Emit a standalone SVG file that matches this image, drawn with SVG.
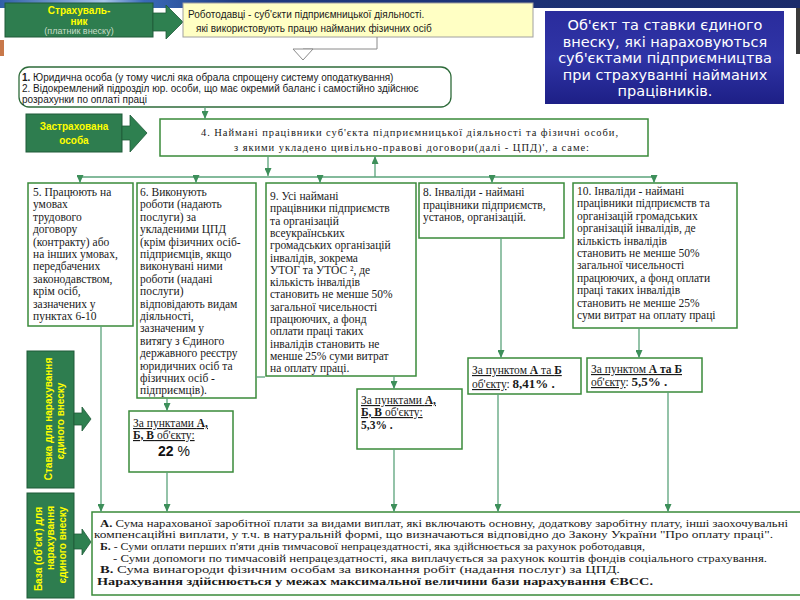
<svg xmlns="http://www.w3.org/2000/svg" width="800" height="600" viewBox="0 0 800 600">
<defs>
<linearGradient id="topg" x1="0" y1="0" x2="1" y2="0">
<stop offset="0" stop-color="#2f5fa8"/><stop offset="0.13" stop-color="#a8c6ea"/><stop offset="0.18" stop-color="#3a6ab8"/><stop offset="0.3" stop-color="#1e3a80"/><stop offset="1" stop-color="#1a2b6a"/>
</linearGradient>
<linearGradient id="blueg" x1="0" y1="0" x2="0" y2="1">
<stop offset="0" stop-color="#2a2c9c"/><stop offset="0.5" stop-color="#2f34a6"/><stop offset="1" stop-color="#1d1f86"/>
</linearGradient>
<marker id="ar" markerUnits="userSpaceOnUse" markerWidth="8" markerHeight="7" refX="8" refY="3.5" orient="auto">
<path d="M0,0 L8,3.5 L0,7 z" fill="#3d8f5a"/>
</marker>
<style>
.gb{fill:#2e7d4f;stroke:#1f5a38;stroke-width:1}
.ga{fill:#2e8050;stroke:#1f5a38;stroke-width:0.8}
.yl{fill:#ffff00;font-family:"Liberation Sans",Arial,sans-serif;font-weight:bold;font-size:10px}
.bx{fill:#ffffff;stroke:#3a8a3a;stroke-width:1.5}
.t{font-family:"Liberation Serif","Times New Roman",serif;font-size:11.5px;fill:#1a1a1a}
.tb{font-family:"Liberation Serif","Times New Roman",serif;font-size:10.5px;fill:#1a1a1a}
.s{font-family:"Liberation Sans",Arial,sans-serif;font-size:10px;fill:#1a1a1a}
.c{stroke:#5aa37a;stroke-width:1.3;fill:none}
.b{font-weight:bold}
.u{text-decoration:underline}
</style>
</defs>
<rect width="800" height="600" fill="#ffffff"/>
<rect x="0" y="0" width="800" height="8" fill="url(#topg)"/>
<rect x="0" y="40" width="4" height="16" fill="#c8784a"/>
<rect x="796" y="8" width="4" height="46" fill="#3a3a3a"/>

<g id="strakhuvalnyk">
<rect class="gb" x="5" y="3" width="148" height="34"/>
<text class="yl" x="79" y="14" text-anchor="middle">Страхуваль-</text>
<text class="yl" x="79" y="25" text-anchor="middle">ник</text>
<text x="79" y="34" text-anchor="middle" font-family="Liberation Sans,Arial,sans-serif" font-size="9" fill="#c8dcc8">(платник внеску)</text>
<polygon class="ga" points="153,13 166,13 166,5 183,22 166,39 166,31 153,31"/>
</g>

<g id="robotodavtsi">
<rect x="183" y="3" width="350" height="34" fill="#ffffc4" stroke="#a0a0a0" stroke-width="1"/>
<text class="s" x="188" y="18" font-size="11">Роботодавці - суб'єкти підприємницької діяльності.</text>
<text class="s" x="196" y="32" font-size="11">які використовують працю найманих фізичних осіб</text>
</g>

<g id="title">
<rect x="545" y="11" width="239" height="93" fill="url(#blueg)"/>
<g font-family="DejaVu Sans,Verdana,sans-serif" font-size="14.5" fill="#ffffff" text-anchor="middle">
<text x="665" y="30">Об'єкт та ставки єдиного</text>
<text x="665" y="47">внеску, які нараховуються</text>
<text x="665" y="63">суб'єктами підприємництва</text>
<text x="665" y="80">при страхуванні найманих</text>
<text x="665" y="96">працівників.</text>
</g>
</g>

<g id="box1">
<rect x="19" y="67" width="432" height="40" rx="10" ry="10" fill="#ffffff" stroke="#2e6b3a" stroke-width="1.3"/>
<text class="s" x="22" y="81"><tspan class="b">1.</tspan> Юридична особа (у тому числі яка обрала спрощену систему оподаткування)</text>
<text class="s" x="22" y="92">2. Відокремлений підрозділ юр. особи, що має окремий баланс і самостійно здійснює</text>
<text class="s" x="22" y="103">розрахунки по оплаті праці</text>
</g>

<g id="zastrakhovana">
<rect class="gb" x="26" y="114" width="96" height="38"/>
<text class="yl" x="74" y="130" text-anchor="middle" font-size="10.5">Застрахована</text>
<text class="yl" x="74" y="144" text-anchor="middle" font-size="10.5">особа</text>
<polygon class="ga" points="122,126 130,126 130,115 147,133 130,152 130,140 122,140"/>
</g>

<g id="box4">
<rect class="bx" x="160" y="119" width="488" height="37"/>
<text class="tb" x="201" y="136" textLength="417" lengthAdjust="spacing">4. Наймані працівники суб'єкта підприємницької діяльності та фізичні особи,</text>
<text class="tb" x="234" y="151" textLength="355" lengthAdjust="spacing">з якими укладено цивільно-правові договори(далі - ЦПД)', а саме:</text>
</g>

<g id="box5">
<rect class="bx" x="28" y="183" width="105" height="143"/>
<g class="t">
<text x="33" y="196">5. Працюють на</text>
<text x="33" y="208.4">умовах</text>
<text x="33" y="220.8">трудового</text>
<text x="33" y="233.2">договору</text>
<text x="33" y="245.6">(контракту) або</text>
<text x="33" y="258">на інших умовах,</text>
<text x="33" y="270.4">передбачених</text>
<text x="33" y="282.8">законодавством,</text>
<text x="33" y="295.2">крім осіб,</text>
<text x="33" y="307.6">зазначених у</text>
<text x="33" y="320">пунктах 6-10</text>
</g>
</g>

<g id="box6">
<rect class="bx" x="137" y="183" width="119" height="215"/>
<g class="t">
<text x="140" y="196">6. Виконують</text>
<text x="140" y="208.4">роботи (надають</text>
<text x="140" y="220.8">послуги)  за</text>
<text x="140" y="233.2">укладеними ЦПД</text>
<text x="140" y="245.6">(крім фізичних осіб-</text>
<text x="140" y="258">підприємців, якщо</text>
<text x="140" y="270.4">виконувані ними</text>
<text x="140" y="282.8">роботи (надані</text>
<text x="140" y="295.2">послуги)</text>
<text x="140" y="307.6">відповідають  видам</text>
<text x="140" y="320">діяльності,</text>
<text x="140" y="332.4">зазначеним  у</text>
<text x="140" y="344.8">витягу  з  Єдиного</text>
<text x="140" y="357.2">державного  реєстру</text>
<text x="140" y="369.6">юридичних осіб та</text>
<text x="140" y="382">фізичних осіб   -</text>
<text x="140" y="394.4">підприємців).</text>
</g>
</g>

<g id="box9">
<rect class="bx" x="266" y="183" width="150" height="193"/>
<g class="t">
<text x="270" y="200">9. Усі наймані</text>
<text x="270" y="212.3">працівники підприємств</text>
<text x="270" y="224.6">та організацій</text>
<text x="270" y="236.9">всеукраїнських</text>
<text x="270" y="249.2">громадських організацій</text>
<text x="270" y="261.5">інвалідів, зокрема</text>
<text x="270" y="273.8">УТОГ та УТОС ², де</text>
<text x="270" y="286.1">кількість інвалідів</text>
<text x="270" y="298.4">становить не менше 50%</text>
<text x="270" y="310.7">загальної чисельності</text>
<text x="270" y="323">працюючих, а фонд</text>
<text x="270" y="335.3">оплати праці таких</text>
<text x="270" y="347.6">інвалідів становить не</text>
<text x="270" y="359.9">менше 25% суми витрат</text>
<text x="270" y="372.2">на оплату праці.</text>
</g>
</g>

<g id="box8">
<rect class="bx" x="419" y="183" width="145" height="55"/>
<g class="t">
<text x="423" y="196">8. Інваліди - наймані</text>
<text x="423" y="208.5">працівники підприємств,</text>
<text x="423" y="221">установ, організацій.</text>
</g>
</g>

<g id="box10">
<rect class="bx" x="573" y="183" width="164" height="145"/>
<g class="t">
<text x="577" y="195">10. Інваліди - наймані</text>
<text x="577" y="207.4">працівники підприємств та</text>
<text x="577" y="219.8">організацій громадських</text>
<text x="577" y="232.2">організацій інвалідів, де</text>
<text x="577" y="244.6">кількість інвалідів</text>
<text x="577" y="257">становить не менше 50%</text>
<text x="577" y="269.4">загальної чисельності</text>
<text x="577" y="281.8">працюючих, а фонд оплати</text>
<text x="577" y="294.2">праці таких інвалідів</text>
<text x="577" y="306.6">становить не менше 25%</text>
<text x="577" y="319">суми витрат на оплату праці</text>
</g>
</g>

<g id="rate22">
<rect class="bx" x="129" y="411" width="104" height="61" stroke-width="1.2"/>
<text class="t" x="133" y="427"><tspan class="u">За пунктами </tspan><tspan class="u b">А,</tspan></text>
<text class="t" x="133" y="439"><tspan class="u b">Б, В</tspan><tspan class="u"> об'єкту:</tspan></text>
<text x="158" y="456" font-family="Liberation Sans,Arial,sans-serif" font-size="14" fill="#111"><tspan font-weight="bold">22</tspan> %</text>
</g>

<g id="rate53">
<rect class="bx" x="357" y="389" width="105" height="60" stroke-width="1.2"/>
<text class="t" x="361" y="404"><tspan class="u">За пунктами </tspan><tspan class="u b">А,</tspan></text>
<text class="t" x="361" y="416"><tspan class="u b">Б, В</tspan><tspan class="u"> об'єкту:</tspan></text>
<text class="t b" x="361" y="429" font-size="12.5">5,3% .</text>
</g>

<g id="rate841">
<rect class="bx" x="468" y="358" width="113" height="36" stroke-width="1.2"/>
<text class="t" x="472" y="374"><tspan class="u">За пунктом </tspan><tspan class="u b">А</tspan><tspan class="u"> та </tspan><tspan class="u b">Б</tspan></text>
<text class="t" x="472" y="388"><tspan class="u">об'єкту</tspan>: <tspan class="b" font-size="13">8,41% .</tspan></text>
</g>

<g id="rate55">
<rect class="bx" x="587" y="358" width="115" height="34" stroke-width="1.2"/>
<text class="t" x="591" y="373"><tspan class="u">За пунктом </tspan><tspan class="u b">А та Б</tspan></text>
<text class="t" x="591" y="386"><tspan class="u">об'єкту</tspan>: <tspan class="b" font-size="13">5,5% .</tspan></text>
</g>

<g id="stavka">
<rect class="gb" x="27" y="351" width="47" height="137"/>
<text class="yl" transform="translate(52,419) rotate(-90)" text-anchor="middle">Ставка для нарахування</text>
<text class="yl" transform="translate(64,421) rotate(-90)" text-anchor="middle">єдиного внеску</text>
<polygon class="ga" points="74,413 82,413 82,407 91,419 82,431 82,425 74,425"/>
</g>

<g id="baza">
<rect class="gb" x="27" y="493" width="47" height="105"/>
<text class="yl" transform="translate(42,549) rotate(-90)" text-anchor="middle">База (об'єкт) для</text>
<text class="yl" transform="translate(54,538) rotate(-90)" text-anchor="middle">нарахування</text>
<text class="yl" transform="translate(66,545) rotate(-90)" text-anchor="middle">єдиного внеску</text>
<polygon class="ga" points="74,534 82,534 82,529 91,542 82,555 82,549 74,549"/>
</g>

<g id="base">
<rect x="92" y="512" width="716" height="83" fill="#ffffff" stroke="#3a8a3a" stroke-width="1.5"/>
<g class="tb">
<text x="100" y="527" textLength="688" lengthAdjust="spacingAndGlyphs"><tspan class="b">А.</tspan> Сума нарахованої заробітної плати за видами виплат, які включають основну, додаткову заробітну плату, інші заохочувальні</text>
<text x="94" y="538" textLength="679" lengthAdjust="spacingAndGlyphs">компенсаційні виплати, у т.ч. в натуральній формі, що визначаються відповідно  до  Закону  України  "Про  оплату  праці".</text>
<text x="100" y="550" textLength="545" lengthAdjust="spacingAndGlyphs"><tspan class="b">Б.</tspan> - Суми оплати перших п'яти днів тимчасової непрацездатності, яка здійснюється за рахунок роботодавця,</text>
<text x="113" y="562" textLength="654" lengthAdjust="spacingAndGlyphs">- Суми допомоги по тимчасовій непрацездатності, яка виплачується за рахунок коштів фондів соціального страхування.</text>
<text x="100" y="573" textLength="520" lengthAdjust="spacingAndGlyphs"><tspan class="b">В.</tspan> Сума винагороди фізичним  особам  за  виконання робіт (надання послуг) за ЦПД.</text>
<text x="97" y="585" class="b" textLength="556" lengthAdjust="spacingAndGlyphs">Нарахування здійснюється у межах максимальної величини бази нарахування ЄВСС.</text>
</g>
</g>

<g id="connectors">
<path d="M377,37 V49 H303" stroke="#8a8a8a" stroke-width="1" fill="none"/>
<polygon points="293,49 313,49 303,60" fill="#ffffff" stroke="#8a8a8a" stroke-width="1"/>
<path class="c" d="M205,107 V119" marker-end="url(#ar)"/>
<path class="c" d="M268,156 V176" marker-end="url(#ar)"/>
<path class="c" d="M375,177 V156" marker-end="url(#ar)"/>
<path class="c" d="M80,177 H654"/>
<path class="c" d="M80,177 V183" marker-end="url(#ar)"/>
<path class="c" d="M196,177 V183" marker-end="url(#ar)"/>
<path class="c" d="M320,177 V183" marker-end="url(#ar)"/>
<path class="c" d="M492,177 V183" marker-end="url(#ar)"/>
<path class="c" d="M654,177 V183" marker-end="url(#ar)"/>
<path class="c" d="M101,326 V512" marker-end="url(#ar)"/>
<path class="c" d="M167,398 V411" marker-end="url(#ar)"/>
<path class="c" d="M167,472 V512" marker-end="url(#ar)"/>
<path class="c" d="M394,376 V389" marker-end="url(#ar)"/>
<path class="c" d="M394,449 V512" marker-end="url(#ar)"/>
<path class="c" d="M501,238 V358" marker-end="url(#ar)"/>
<path class="c" d="M498,394 V512" marker-end="url(#ar)"/>
<path class="c" d="M639,328 V358" marker-end="url(#ar)"/>
<path class="c" d="M668,392 V512" marker-end="url(#ar)"/>
<path class="c" d="M256,377 H265"/>
</g>
</svg>
